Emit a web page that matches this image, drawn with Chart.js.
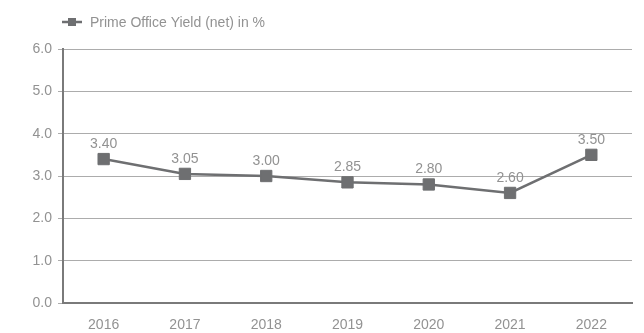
<!DOCTYPE html>
<html>
<head>
<meta charset="utf-8">
<script src="https://cdn.jsdelivr.net/npm/chart.js@4"></script>
<style>
  html, body { margin: 0; padding: 0; background: #ffffff; }
  #wrap { width: 644px; height: 333px; position: relative; }
</style>
</head>
<body>
<div id="wrap"><canvas id="chart"></canvas></div>
<script>
// Prime office yield, net, in percent
const years = ['2016', '2017', '2018', '2019', '2020', '2021', '2022'];
const yieldNet = [3.40, 3.05, 3.00, 2.85, 2.80, 2.60, 3.50];
const seriesLabel = 'Prime Office Yield (net) in %';
const yMin = 0, yMax = 6, yStep = 1;

const LINE = '#6e6f71';
const TEXT = '#929292';
const FONT = '"Liberation Sans", Arial, Helvetica, sans-serif';

// value labels above each point, formatted with two decimals
const valueLabels = {
  id: 'valueLabels',
  afterDatasetsDraw(chart) {
    const ctx = chart.ctx;
    ctx.save();
    ctx.font = '14px ' + FONT;
    ctx.fillStyle = TEXT;
    ctx.textAlign = 'center';
    ctx.textBaseline = 'bottom';
    chart.data.datasets.forEach((ds, di) => {
      chart.getDatasetMeta(di).data.forEach((pt, i) => {
        ctx.fillText(ds.data[i].toFixed(2), pt.x, pt.y - 8);
      });
    });
    ctx.restore();
  }
};

// legend entry: short line with a square marker, then the series name
const lineLegend = {
  id: 'lineLegend',
  afterDraw(chart) {
    const ctx = chart.ctx;
    const ds = chart.data.datasets[0];
    const x0 = 62, y0 = 22;
    ctx.save();
    ctx.strokeStyle = ds.borderColor;
    ctx.lineWidth = 2.5;
    ctx.beginPath();
    ctx.moveTo(x0, y0);
    ctx.lineTo(x0 + 20, y0);
    ctx.stroke();
    ctx.fillStyle = ds.backgroundColor;
    ctx.fillRect(x0 + 6, y0 - 4, 8, 8);
    ctx.font = '14px ' + FONT;
    ctx.fillStyle = TEXT;
    ctx.textAlign = 'left';
    ctx.textBaseline = 'middle';
    ctx.fillText(ds.label, x0 + 28, y0 + 1);
    ctx.restore();
  }
};

new Chart(document.getElementById('chart'), {
  type: 'line',
  data: {
    labels: years,
    datasets: [{
      label: seriesLabel,
      data: yieldNet,
      borderColor: LINE,
      backgroundColor: LINE,
      borderWidth: 2.5,
      pointStyle: 'rect',
      pointRadius: 8,
      pointHoverRadius: 8,
      pointBorderWidth: 1,
      pointBackgroundColor: LINE,
      pointBorderColor: LINE,
      tension: 0
    }]
  },
  options: {
    responsive: true,
    maintainAspectRatio: false,
    animation: false,
    layout: { padding: { top: 49, right: 12, left: 0, bottom: 0 } },
    plugins: {
      legend: { display: false },
      tooltip: { enabled: false }
    },
    scales: {
      x: {
        type: 'category',
        offset: true,
        grid: { display: false },
        border: { display: true, color: '#7a7a7a', width: 2 },
        ticks: {
          color: TEXT,
          font: { family: FONT, size: 14 },
          padding: 6,
          maxRotation: 0
        },
        afterFit(scale) { scale.height = 30; }
      },
      y: {
        min: yMin,
        max: yMax,
        border: { display: true, color: '#7a7a7a', width: 2 },
        grid: {
          color: '#acacac',
          lineWidth: 1,
          drawTicks: true,
          tickLength: 5,
          tickColor: '#acacac'
        },
        ticks: {
          stepSize: yStep,
          color: TEXT,
          font: { family: FONT, size: 14 },
          padding: 6,
          callback: v => v.toFixed(1)
        },
        afterFit(scale) { scale.width = 63; }
      }
    }
  },
  plugins: [valueLabels, lineLegend]
});
</script>
</body>
</html>
